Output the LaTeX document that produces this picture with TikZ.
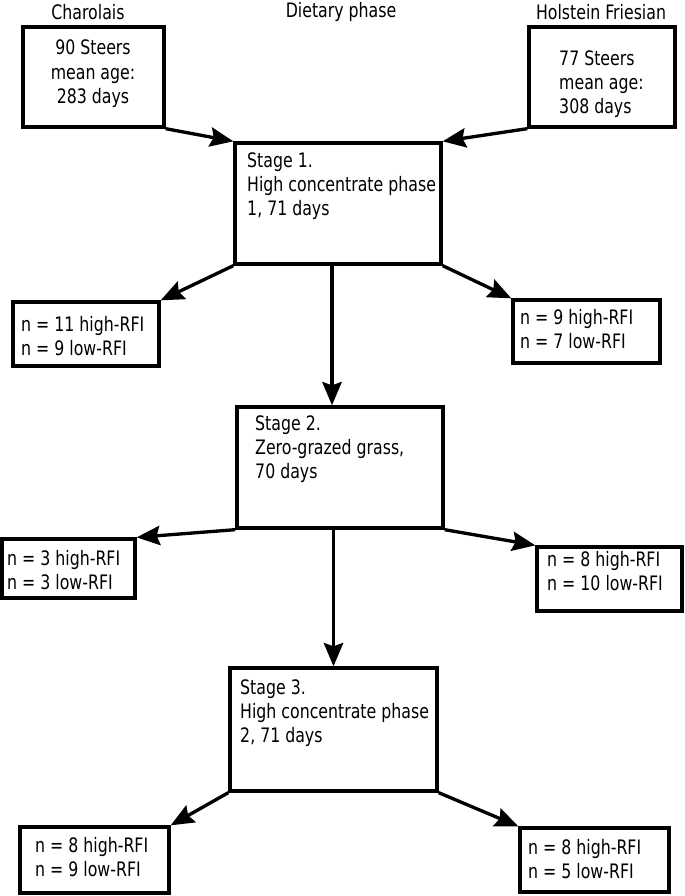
\documentclass[tikz,border=0pt]{standalone}
\usepackage{fontspec}
\setmainfont[FakeStretch=0.88]{DejaVu Sans Condensed}
\usetikzlibrary{arrows.meta,fit}

\tikzset{
  box/.style={draw,line width=0.1cm,inner sep=0pt},
  lbl/.style={inner sep=0pt,anchor=north west,align=left,font=\fontsize{17}{20.8}\selectfont},
  head/.style={inner sep=0pt,font=\fontsize{17}{20.8}\selectfont},
  arr/.style={->,>={Stealth[length=0.7cm,width=0.58cm,inset=0.1cm]},line width=0.1cm}
}

\begin{document}
\begin{tikzpicture}[x=0.03cm,y=-0.03cm]
  \useasboundingbox (0,0) rectangle (685,896);
  % ----- headers -----
  \node[head] (hcha) at (88,12){Charolais};
  \node[head] (hdiet) at (341,12){Dietary phase};
  \node[head] (hhol) at (601,12){Holstein Friesian};
  % ----- breeds -----
  \node[box,fit={(23,27) (164,127)}] (cha){};
  \node[head,align=center] (chatxt) at (93,74){90 Steers\\mean age:\\283 days};
  \node[box,fit={(529,27) (675,127)}] (hol){};
  \node[lbl] (holtxt) at (559,50){77 Steers\\mean age:\\308 days};
  % ----- stage 1 -----
  \node[box,fit={(235,143) (441,264)}] (s1){};
  \node[lbl] (s1txt) at (247,152){Stage 1.\\High concentrate phase\\1, 71 days};
  \node[box,fit={(13,302) (159,366)}] (s1l){};
  \node[lbl] (s1ltxt) at (21,316){n = 11 high-RFI\\n = 9 low-RFI};
  \node[box,fit={(513,300) (660,363)}] (s1r){};
  \node[lbl] (s1rtxt) at (520,309){n = 9 high-RFI\\n = 7 low-RFI};
  % ----- stage 2 -----
  \node[box,fit={(237,407) (443,528)}] (s2){};
  \node[lbl] (s2txt) at (255,415){Stage 2.\\Zero-grazed grass,\\70 days};
  \node[box,fit={(2,539) (135,598)}] (s2l){};
  \node[lbl] (s2ltxt) at (7,550){n = 3 high-RFI\\n = 3 low-RFI};
  \node[box,fit={(537,547) (682,611)}] (s2r){};
  \node[lbl] (s2rtxt) at (547,551){n = 8 high-RFI\\n = 10 low-RFI};
  % ----- stage 3 -----
  \node[box,fit={(230,668) (437,791)}] (s3){};
  \node[lbl] (s3txt) at (240,679){Stage 3.\\High concentrate phase\\2, 71 days};
  \node[box,fit={(20,827) (169,893)}] (s3l){};
  \node[lbl] (s3ltxt) at (35,837){n = 8 high-RFI\\n = 9 low-RFI};
  \node[box,fit={(520,828) (669,892)}] (s3r){};
  \node[lbl] (s3rtxt) at (528,839){n = 8 high-RFI\\n = 5 low-RFI};
  % arrows
  \draw[arr] (cha.south east) -- (s1.north west);
  \draw[arr] (hol.south west) -- (s1.north east);
  \draw[arr] (s1.south west) -- (s1l.north east);
  \draw[arr] (s1.south east) -- (s1r.north west);
  \draw[arr] ([xshift=-0.18cm]s1.south) -- ([xshift=-0.18cm]s1.south |- s2.north);
  \draw[arr] (s2.south west) -- (s2l.north east);
  \draw[arr] (s2.south east) -- (s2r.north west);
  \draw[arr] (s2.south -| s3.north) -- (s3.north);
  \draw[arr] (s3.south west) -- (s3l.north east);
  \draw[arr] (s3.south east) -- (s3r.north west);
\end{tikzpicture}
\end{document}
